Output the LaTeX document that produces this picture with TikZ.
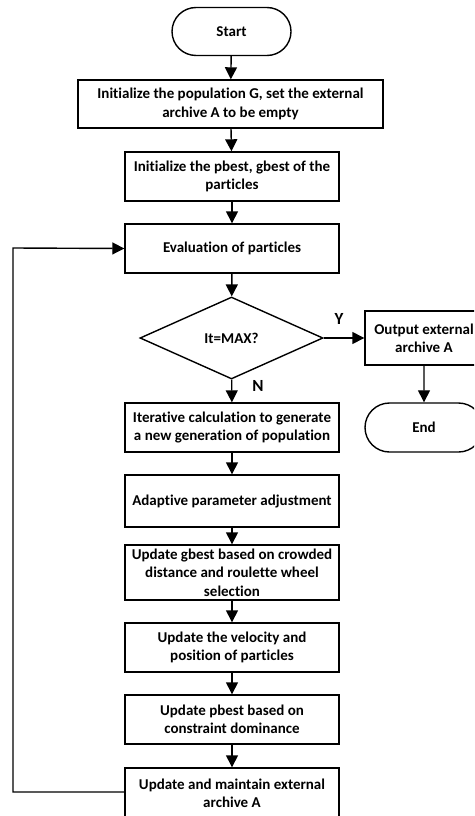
\documentclass[tikz,border=0pt]{standalone}
\usepackage{fontspec}
\setmainfont{Carlito}[Ligatures=NoCommon]
\usetikzlibrary{arrows.meta,shapes.geometric,shapes.misc}
\begin{document}
\begin{tikzpicture}[x=1pt,y=-1pt,
  every node/.style={font=\bfseries\fontsize{15}{18.3}\selectfont, align=center, inner sep=0pt, line width=1.4pt},
  proc/.style={draw, rectangle, minimum width=214pt},
  term/.style={draw, rounded rectangle, minimum width=119pt, minimum height=48pt},
  dec/.style={draw, diamond, minimum width=183pt, minimum height=82pt, aspect=2.2},
  lbl/.style={font=\bfseries\fontsize{17}{18}\selectfont},
  arr/.style={line width=1.4pt, -{Triangle[width=12pt,length=12pt]}}]
\useasboundingbox (0,0) rectangle (474,816);
\begin{scope}
\clip (0,0) rectangle (474,816);
\node[term] (start) at (231.5,31.5) {Start};
\node[proc, minimum width=305pt, minimum height=48pt] (init) at (230.5,104) {Initialize the population G, set the external\\archive A to be empty};
\node[proc, minimum height=49pt] (pinit) at (232,176.5) {Initialize the pbest, gbest of the\\particles};
\node[proc, minimum height=49pt] (eval) at (232,248.5) {Evaluation of particles};
\node[dec] (dec) at (231.5,338) {It=MAX?};
\node[proc, minimum width=118pt, minimum height=54pt] (out) at (424,338) {Output external\\archive A};
\node[term, minimum width=118pt, minimum height=49pt] (end) at (424,427.5) {End};
\node[proc, minimum height=49pt] (iter) at (232,427.5) {Iterative calculation to generate\\a new generation of population};
\node[proc, minimum height=52pt] (adapt) at (232,501) {Adaptive parameter adjustment};
\node[proc, minimum height=55pt] (gbest) at (232,572.5) {Update gbest based on crowded\\distance and roulette wheel\\selection};
\node[proc, minimum height=49pt] (vel) at (232,647.5) {Update the velocity and\\position of particles};
\node[proc, minimum height=49pt] (pbest) at (232,719.5) {Update pbest based on\\constraint dominance};
\node[proc, minimum height=50pt] (arch) at (232,793) {Update and maintain external\\archive A};
\node[lbl] (ylab) at (339,319) {Y};
\node[lbl] (nlab) at (258,386) {N};
\coordinate (lb) at (13,792);
\coordinate (lt) at (13,248);
\draw[arr] (start) -- (init);
\draw[arr] (init) -- (pinit);
\draw[arr] (pinit) -- (eval);
\draw[arr] (eval) -- (dec);
\draw[arr] (dec) -- (out);
\draw[arr] (out) -- (end);
\draw[arr] (dec) -- (iter);
\draw[arr] (iter) -- (adapt);
\draw[arr] (adapt) -- (gbest);
\draw[arr] (gbest) -- (vel);
\draw[arr] (vel) -- (pbest);
\draw[arr] (pbest) -- (arch);
\draw[arr] (arch.west |- lb) -- (lb) -- (lt) -- (eval.west);
\end{scope}
\end{tikzpicture}
\end{document}
